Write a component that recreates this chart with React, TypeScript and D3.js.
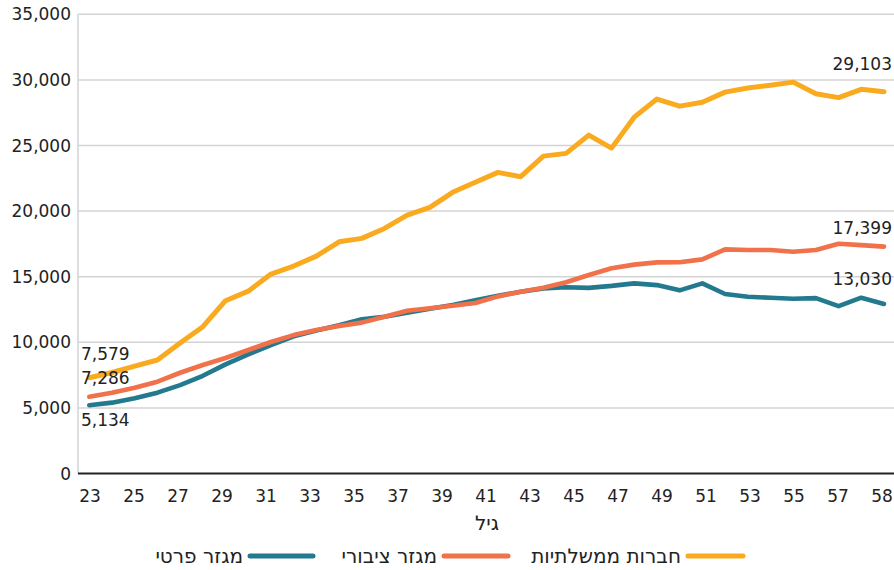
import React from "react";
import * as d3 from "d3";

const ages = d3.range(23, 59);
const tickLabels = ["23","25","27","29","31","33","35","37","39","41","43","45","47","49","51","53","55","57","58"];
const yTicks = [0, 5000, 10000, 15000, 20000, 25000, 30000, 35000];

const govCompanies = [7300, 7700, 8190, 8650, 9940, 11190, 13170, 13900, 15200, 15810, 16570, 17660, 17920, 18680, 19700, 20280, 21430, 22200, 22950, 22620, 24190, 24400, 25790, 24800, 27160, 28540, 28000, 28290, 29070, 29380, 29600, 29830, 28950, 28650, 29280, 29103];
const publicSector = [5850, 6160, 6540, 7000, 7680, 8270, 8800, 9410, 10020, 10550, 10930, 11240, 11500, 11950, 12400, 12600, 12780, 13000, 13500, 13850, 14150, 14580, 15130, 15640, 15920, 16090, 16100, 16320, 17080, 17030, 17030, 16900, 17030, 17510, 17410, 17290];
const privateSector = [5200, 5400, 5730, 6160, 6740, 7450, 8320, 9080, 9790, 10450, 10900, 11300, 11750, 11950, 12250, 12550, 12850, 13200, 13550, 13850, 14100, 14200, 14150, 14300, 14490, 14360, 13960, 14490, 13680, 13470, 13400, 13320, 13370, 12760, 13400, 12920];

const seriesNames = ["חברות ממשלתיות", "מגזר ציבורי", "מגזר פרטי"];
const colors = ["#FAAA1E", "#F0714A", "#237A8F"];

const labelsLeft = [
  { text: "7,579", series: 0, dy: -24 },
  { text: "7,286", series: 0, dy: 0 },
  { text: "5,134", series: 2, dy: 15 },
];
const labelsRight = [
  { text: "29,103", series: 0, dy: -28 },
  { text: "17,399", series: 1, dy: -19 },
  { text: "13,030", series: 2, dy: -25 },
];

export default function App() {
  const W = 894, H = 570;
  const left = 78, right = 894, top = 14.3, bottom = 473.5;
  const font = "'DejaVu Sans', sans-serif";
  const x = d3.scalePoint<number>().domain(ages).range([89.3, 884]);
  const xt = d3.scalePoint<string>().domain(tickLabels).range([90, 882]);
  const y = d3.scaleLinear().domain([0, 35000]).range([bottom, top]);
  const data = [govCompanies, publicSector, privateSector];
  const line = d3.line<number>().x((_, i) => x(ages[i]) as number).y((d) => y(d));
  const fmt = d3.format(",");
  const drawOrder = [0, 2, 1];
  const numSize = 17;

  const legendItems = [
    { s: 0, sw: [688, 743], textEnd: 681 },
    { s: 1, sw: [444, 508], textEnd: 437 },
    { s: 2, sw: [250, 313], textEnd: 243 },
  ];

  return (
    <svg width={W} height={H} style={{ position: "absolute", left: 0, top: 0, background: "#fff" }} fontFamily={font}>
      {yTicks.map((t) => (
        <g key={t}>
          {t > 0 && <line x1={left} x2={right} y1={y(t)} y2={y(t)} stroke="#d3d3d3" strokeWidth={1.5} />}
          <text x={71} y={y(t)} textAnchor="end" dominantBaseline="central" fontSize={numSize} fill="#222">{fmt(t)}</text>
        </g>
      ))}
      <line x1={left} x2={left} y1={top} y2={bottom} stroke="#d3d3d3" strokeWidth={1.5} />
      <line x1={left} x2={right} y1={bottom} y2={bottom} stroke="#222" strokeWidth={2} />
      {tickLabels.map((t) => (
        <text key={t} x={xt(t)} y={496} textAnchor="middle" dominantBaseline="central" fontSize={numSize} fill="#222">{t}</text>
      ))}
      <text x={487} y={523} textAnchor="middle" dominantBaseline="central" fontSize={20} fill="#222">גיל</text>
      {drawOrder.map((s) => (
        <path key={s} d={line(data[s]) || ""} fill="none" stroke={colors[s]} strokeWidth={s === 0 ? 5 : 4.6} strokeLinejoin="round" strokeLinecap="round" />
      ))}
      {labelsLeft.map((l) => (
        <text key={l.text} x={81} y={y(data[l.series][0]) + l.dy} dominantBaseline="central" fontSize={numSize} fill="#222">{l.text}</text>
      ))}
      {labelsRight.map((l) => (
        <text key={l.text} x={892} y={y(data[l.series][ages.length - 1]) + l.dy} textAnchor="end" dominantBaseline="central" fontSize={numSize} fill="#222">{l.text}</text>
      ))}
      {legendItems.map((it) => (
        <g key={it.s}>
          <line x1={it.sw[0]} x2={it.sw[1]} y1={556} y2={556} stroke={colors[it.s]} strokeWidth={5} strokeLinecap="round" />
          <text x={it.textEnd} y={556} textAnchor="end" dominantBaseline="central" fontSize={20} fill="#222">{seriesNames[it.s]}</text>
        </g>
      ))}
    </svg>
  );
}
